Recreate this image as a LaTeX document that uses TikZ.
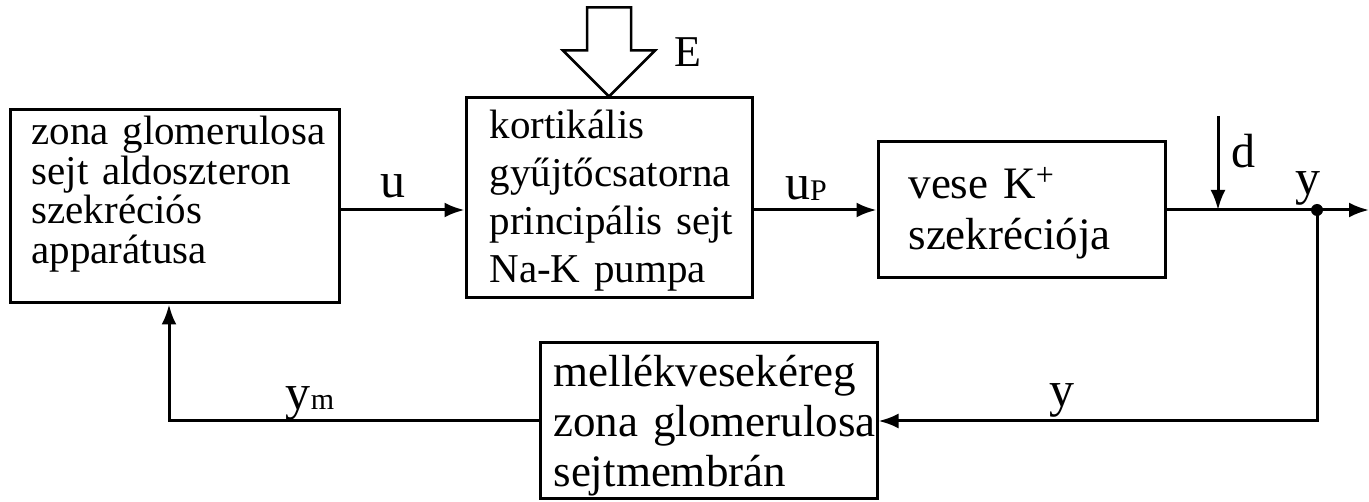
\documentclass[tikz,border=0pt]{standalone}
\usepackage{fontspec}
\setmainfont{Liberation Serif}
\usetikzlibrary{arrows.meta}

\begin{document}
\begin{tikzpicture}[x=1pt,y=-1pt,line width=3pt,
    box/.style={draw,inner sep=0pt},
    txt/.style={anchor=base west,inner sep=0pt,align=left,text width=#1},
    lbl/.style={anchor=base,inner sep=0pt,font=\fontsize{50}{50}\selectfont},
    arr/.style={-{Latex[length=20pt,width=15pt]}}]
  \useasboundingbox(0,0)rectangle(1369,502);
  % blocks
  \node[box,minimum width=329pt,minimum height=193pt](b1)at(174.5,206.5){};
  \node[box,minimum width=286pt,minimum height=200pt](b2)at(609,198){};
  \node[box,minimum width=287pt,minimum height=136pt](b3)at(1021.5,210){};
  \node[box,minimum width=337pt,minimum height=156pt](b4)at(708.5,421){};
  \node[txt=305pt,font=\fontsize{41}{39.5}\selectfont](t1)at(30,145){zona glomerulosa\\sejt aldoszteron\\szekréciós\\apparátusa};
  \node[txt=262pt,font=\fontsize{41}{48}\selectfont](t2)at(488,139){kortikális\\gyűjtőcsatorna\\principális sejt\\Na-K pumpa};
  \node[txt=250pt,font=\fontsize{45}{51}\selectfont](t3)at(907,199){vese K\raisebox{13pt}{\fontsize{32}{32}\selectfont+}\\szekréciója};
  \node[txt=325pt,font=\fontsize{45}{50}\selectfont](t4)at(552,387){mellékvesekéreg\\zona glomerulosa\\sejtmembrán};
  % input E
  \draw[line width=2.5pt,fill=white](b2.north)--++(-46,-46)--++(24,0)--++(0,-43)--++(44,0)--++(0,43)--++(24,0)--cycle;
  \node[lbl,anchor=base west,font=\fontsize{44}{44}\selectfont](E)at(673,67){E};
  % forward path
  \coordinate(dot)at(1317,210);
  \coordinate(out)at(1369,210);
  \coordinate(dtop)at(1218,116);
  \coordinate(fb)at(169,421);
  \draw[arr](b1.east|-b3.west)--(b2.west|-b3.west);
  \draw[arr](b2.east|-b3.west)--(b3.west);
  \draw(b3.east)--(dot);
  \draw[arr](dot)--(out);
  \draw[arr](dtop)--(dtop|-dot);
  \fill(dot)circle(6);
  % feedback
  \draw[arr](dot)--(dot|-b4.east)--(b4.east);
  \draw[arr](b4.west)--(fb)--(fb|-b1.south);
  % labels
  \node[lbl](u)at(393,198){u};
  \node[lbl](up)at(806,200){u\raisebox{-1pt}{\fontsize{30}{30}\selectfont P}};
  \node[lbl,font=\fontsize{48}{48}\selectfont](d)at(1243.5,168){d};
  \node[lbl](y1)at(1307.5,195){y};
  \node[lbl](y2)at(1062,407){y};
  \node[lbl](ym)at(310,410){y{\fontsize{30}{30}\selectfont m}};
\end{tikzpicture}
\end{document}
